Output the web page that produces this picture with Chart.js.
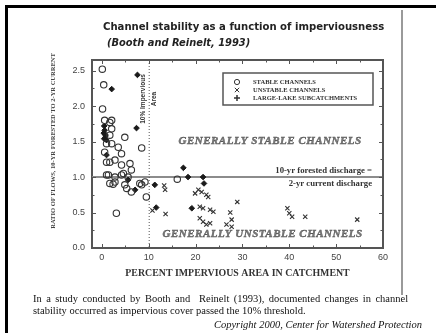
<!DOCTYPE html>
<html>
<head>
<meta charset="utf-8">
<script src="https://cdn.jsdelivr.net/npm/chart.js@4.4.1/dist/chart.umd.min.js"></script>
<style>
  body { margin: 0; background: #fff; }
  #page { position: relative; width: 436px; height: 333px; overflow: hidden; background: #fff; }
  #frame { position: absolute; left: 5px; top: 5px; width: 450px; height: 350px; border-left: 3px solid #000; border-top: 3px solid #000; }
  #rule { position: absolute; left: 401px; top: 10px; width: 2px; height: 285px; background: #9a9a9a; }
  #chart { position: absolute; left: 0; top: 0; }
  .head { position: absolute; font-family: "DejaVu Sans", "Liberation Sans", sans-serif; font-weight: bold; font-size: 10.1px; color: #222; white-space: nowrap; line-height: 13px; }
  .caption { position: absolute; font-family: "Liberation Serif", "Times New Roman", serif; font-size: 10.5px; color: #111; white-space: nowrap; line-height: 12px; }
</style>
</head>
<body>
<div id="page">
  <div id="frame"></div>
  <div id="rule"></div>
  <canvas id="chart" width="436" height="333"></canvas>
  <div class="head" style="left:103px; top:20px;">Channel stability as a function of imperviousness</div>
  <div class="head" style="left:107px; top:36px; font-style:italic; font-size:9.9px;">(Booth and Reinelt, 1993)</div>
  <div class="caption" style="left:33px; top:293px; word-spacing:1.8px;">In a study conducted by Booth and&nbsp; Reinelt (1993), documented changes in channel</div>
  <div class="caption" style="left:33px; top:305px;">stability occurred as impervious cover passed the 10% threshold.</div>
  <div class="caption" style="right:14px; top:319px; font-style:italic;">Copyright 2000, Center for Watershed Protection</div>
</div>
<script>
// percent impervious area vs ratio of flows (10-yr forested / 2-yr current)
const stableX = [0.1, 0.4, 0.15, 0.6, 2.1, 1.7, 2.1, 1.7, 4.9, 2.1, 1.0, 0.6, 3.5, 4.2, 8.5, 2.8, 1.0, 1.7, 4.2, 6.0,
                 6.3, 4.6, 1.0, 2.8, 5.6, 1.7, 2.8, 2.4, 4.9, 5.3, 6.3, 8.1, 9.2, 8.5, 9.5, 16.1, 3.1, 4.2, 1.4];
const stableY = [2.52, 2.30, 1.96, 1.80, 1.80, 1.77, 1.68, 1.59, 1.56, 1.47, 1.47, 1.35, 1.42, 1.33, 1.41, 1.24, 1.21, 1.21, 1.17, 1.19,
                 1.10, 1.05, 1.03, 1.00, 1.00, 0.91, 0.93, 0.90, 0.89, 0.84, 0.79, 0.91, 0.93, 0.89, 0.72, 0.97, 0.49, 1.03, 1.03];

const unstableX = [13.3, 13.5, 10.8, 13.6, 19.9, 20.6, 21.3, 22.3, 22.7, 20.9, 21.6, 23.1, 23.8, 20.9, 21.6, 22.3, 23.1,
                   27.4, 27.7, 26.6, 27.7, 28.9, 39.6, 40.0, 40.6, 43.4, 54.5];
const unstableY = [0.88, 0.82, 0.53, 0.48, 0.77, 0.82, 0.79, 0.75, 0.72, 0.58, 0.56, 0.54, 0.51, 0.42, 0.37, 0.33, 0.35,
                   0.50, 0.40, 0.33, 0.30, 0.65, 0.56, 0.49, 0.44, 0.44, 0.40];

const lakeX = [2.1, 7.6, 7.4, 0.5, 0.6, 0.4, 0.8, 0.5, 1.0, 0.7, 1.0, 5.6, 7.1, 11.3, 17.4, 18.4, 21.6, 21.8, 19.2, 11.6];
const lakeY = [2.24, 2.44, 1.69, 1.72, 1.66, 1.62, 1.58, 1.54, 1.52, 1.60, 1.31, 0.96, 0.82, 0.89, 1.13, 1.00, 1.00, 0.91, 0.56, 0.57];

const xTicks = [0, 10, 20, 30, 40, 50, 60];
const yTicks = [0, 0.5, 1.0, 1.5, 2.0, 2.5];
const xMinor = [5, 15, 25, 35, 45, 55];
const yMinor = [0.25, 0.75, 1.25, 1.75, 2.25];

const seriesNames = ['STABLE CHANNELS', 'UNSTABLE CHANNELS', 'LARGE-LAKE SUBCATCHMENTS'];
const ratioLine = 1.0;
const imperviousLine = 10;

function pairs(xs, ys) {
    let out = [];
    for (let i = 0; i < xs.length; i++) {
        out.push({ x: xs[i], y: ys[i] });
    }
    return out;
}

const ink = '#333';

function drawMark(ctx, style, px, py) {
    ctx.save();
    ctx.strokeStyle = ink;
    ctx.fillStyle = '#222';
    ctx.lineWidth = 1;
    ctx.beginPath();
    if (style == 'circle') {
        ctx.arc(px, py, 2.6, 0, Math.PI * 2);
        ctx.stroke();
    } else if (style == 'crossRot') {
        ctx.moveTo(px - 2.2, py - 2.2); ctx.lineTo(px + 2.2, py + 2.2);
        ctx.moveTo(px + 2.2, py - 2.2); ctx.lineTo(px - 2.2, py + 2.2);
        ctx.stroke();
    } else {
        ctx.lineWidth = 1.5;
        ctx.moveTo(px - 3, py); ctx.lineTo(px + 3, py);
        ctx.moveTo(px, py - 3); ctx.lineTo(px, py + 3);
        ctx.stroke();
    }
    ctx.restore();
}

const decor = {
    id: 'decor',
    beforeDatasetsDraw(chart) {
        const { ctx, chartArea: a, scales: { x, y } } = chart;
        ctx.save();

        // 10-yr forested = 2-yr current discharge
        const y1 = y.getPixelForValue(ratioLine);
        ctx.strokeStyle = '#8c8c8c';
        ctx.lineWidth = 2;
        ctx.beginPath(); ctx.moveTo(a.left, y1); ctx.lineTo(a.right, y1); ctx.stroke();

        // 10% impervious threshold
        const x10 = x.getPixelForValue(imperviousLine);
        ctx.strokeStyle = '#555';
        ctx.lineWidth = 1;
        ctx.setLineDash([1, 2]);
        ctx.beginPath(); ctx.moveTo(x10 + 0.5, a.top); ctx.lineTo(x10 + 0.5, a.bottom); ctx.stroke();
        ctx.setLineDash([]);

        // top and right sides of the box
        ctx.strokeStyle = '#555';
        ctx.lineWidth = 2;
        ctx.beginPath();
        ctx.moveTo(a.left, a.top); ctx.lineTo(a.right, a.top); ctx.lineTo(a.right, a.bottom);
        ctx.stroke();

        // inward ticks on all four sides
        ctx.lineWidth = 1;
        ctx.strokeStyle = '#555';
        ctx.beginPath();
        xTicks.concat(xMinor).forEach(function (v) {
            const len = xTicks.includes(v) ? 4 : 2.5;
            const px = Math.round(x.getPixelForValue(v)) + 0.5;
            ctx.moveTo(px, a.bottom); ctx.lineTo(px, a.bottom - len);
            ctx.moveTo(px, a.top); ctx.lineTo(px, a.top + len);
        });
        yTicks.concat(yMinor).forEach(function (v) {
            const len = yTicks.includes(v) ? 4 : 2.5;
            const py = Math.round(y.getPixelForValue(v)) + 0.5;
            ctx.moveTo(a.left, py); ctx.lineTo(a.left + len, py);
            ctx.moveTo(a.right, py); ctx.lineTo(a.right - len, py);
        });
        ctx.stroke();

        // line labels
        ctx.fillStyle = '#333';
        ctx.font = 'bold 8.7px "Liberation Serif", serif';
        ctx.textAlign = 'right';
        ctx.textBaseline = 'middle';
        ctx.fillText('10-yr forested discharge =', a.right - 11, y1 - 6);
        ctx.fillText('2-yr current discharge', a.right - 11, y1 + 6.5);

        // rotated threshold note
        ctx.save();
        ctx.translate(x10, a.top + 39);
        ctx.rotate(-Math.PI / 2);
        ctx.textAlign = 'center';
        ctx.font = 'bold 6.5px "Liberation Sans", sans-serif';
        ctx.fillText('10% Impervious', 0, -5);
        ctx.fillText('Area', 0, 6);
        ctx.restore();

        // region labels
        ctx.fillStyle = '#7a7a7a';
        ctx.strokeStyle = '#555';
        ctx.lineWidth = 0.4;
        ctx.textAlign = 'center';
        ctx.font = 'italic bold 11px "Liberation Serif", serif';
        ctx.letterSpacing = '0.5px';
        const sx = x.getPixelForValue(35.9), sy = y.getPixelForValue(1.50);
        ctx.fillText('GENERALLY STABLE CHANNELS', sx, sy);
        ctx.strokeText('GENERALLY STABLE CHANNELS', sx, sy);
        const ux = x.getPixelForValue(34.3), uy = y.getPixelForValue(0.20);
        ctx.fillText('GENERALLY UNSTABLE CHANNELS', ux, uy);
        ctx.strokeText('GENERALLY UNSTABLE CHANNELS', ux, uy);
        ctx.restore();
    },
    afterDatasetsDraw(chart) {
        const { ctx, chartArea: a } = chart;
        ctx.save();
        // legend box
        const left = a.right - 160, top = a.top + 13, w = 150, h = 32;
        ctx.fillStyle = '#fff';
        ctx.fillRect(left, top, w, h);
        ctx.strokeStyle = '#555';
        ctx.lineWidth = 1.5;
        ctx.strokeRect(left, top, w, h);
        ctx.font = 'bold 6.5px "Liberation Serif", serif';
        ctx.textAlign = 'left';
        ctx.textBaseline = 'middle';
        ctx.fillStyle = '#333';
        chart.data.datasets.forEach(function (ds, i) {
            const ry = top + 9 + i * 8;
            drawMark(ctx, ds.pointStyle, left + 14, ry);
            ctx.fillText(ds.label, left + 30, ry);
        });
        ctx.restore();
    },
    afterDraw(chart) {
        const { ctx, chartArea: a } = chart;
        ctx.save();
        ctx.translate(a.left - 39, (a.top + a.bottom) / 2 - 13);
        ctx.rotate(-Math.PI / 2);
        ctx.fillStyle = '#444';
        ctx.font = 'bold 6.5px "Liberation Serif", serif';
        ctx.textAlign = 'center';
        ctx.textBaseline = 'middle';
        ctx.fillText('RATIO OF FLOWS, 10-YR FORESTED TO 2-YR CURRENT', 0, 0);
        ctx.restore();
    }
};

const tickFont = { family: '"Liberation Sans", sans-serif', size: 9 };

new Chart(document.getElementById('chart'), {
    type: 'scatter',
    data: {
        datasets: [
            {
                label: seriesNames[0],
                data: pairs(stableX, stableY),
                pointStyle: 'circle',
                pointRadius: 3.2,
                borderWidth: 1.1,
                borderColor: ink,
                backgroundColor: 'rgba(0,0,0,0)'
            },
            {
                label: seriesNames[1],
                data: pairs(unstableX, unstableY),
                pointStyle: 'crossRot',
                pointRadius: 3,
                borderWidth: 1.1,
                borderColor: ink,
                backgroundColor: ink
            },
            {
                label: seriesNames[2],
                data: pairs(lakeX, lakeY),
                pointStyle: 'rectRot',
                pointRadius: 2.8,
                borderWidth: 1,
                borderColor: '#1a1a1a',
                backgroundColor: '#1a1a1a'
            }
        ]
    },
    options: {
        responsive: false,
        animation: false,
        events: [],
        layout: { padding: { left: 40, top: 60, right: 53, bottom: 50 } },
        plugins: {
            legend: { display: false },
            tooltip: { enabled: false }
        },
        scales: {
            x: {
                type: 'linear',
                min: -2.1,
                max: 60,
                afterBuildTicks: function (s) { s.ticks = xTicks.map(function (v) { return { value: v }; }); },
                afterFit: function (s) { s.height = 35; },
                grid: { display: false, drawTicks: false },
                border: { display: true, color: '#555', width: 2 },
                ticks: { color: '#444', font: tickFont, padding: 4 },
                title: {
                    display: true,
                    text: 'PERCENT IMPERVIOUS AREA IN CATCHMENT',
                    color: '#333',
                    font: { family: '"Liberation Serif", serif', size: 9.9, weight: 'bold' },
                    padding: { top: 0, bottom: 4 }
                }
            },
            y: {
                type: 'linear',
                min: 0,
                max: 2.65,
                afterBuildTicks: function (s) { s.ticks = yTicks.map(function (v) { return { value: v }; }); },
                afterFit: function (s) { s.width = 52; },
                grid: { display: false, drawTicks: false },
                border: { display: true, color: '#555', width: 2 },
                ticks: {
                    color: '#444',
                    font: tickFont,
                    padding: 7,
                    callback: function (v) { return Number(v).toFixed(1); }
                }
            }
        }
    },
    plugins: [decor]
});
</script>
</body>
</html>
